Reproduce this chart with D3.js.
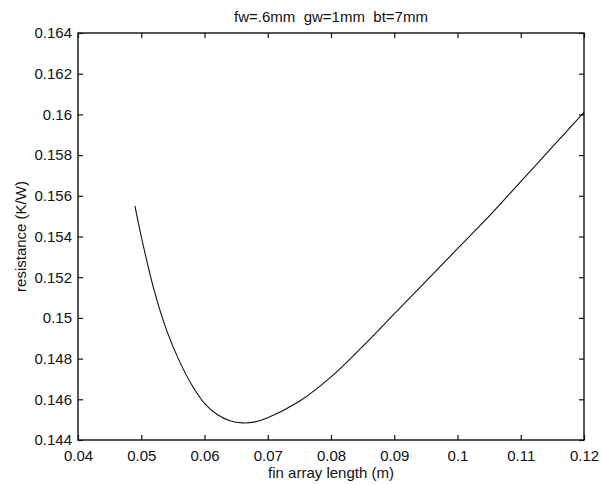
<!DOCTYPE html>
<html>
<head>
<meta charset="utf-8">
<script src="https://cdn.jsdelivr.net/npm/d3@7"></script>
<style>
body { margin: 0; background: #fff; }
text { font-family: "Liberation Sans", Arial, Helvetica, sans-serif; fill: #111; }
</style>
</head>
<body>
<svg id="chart" width="602" height="485"></svg>
<script>
const titleText = "fw=.6mm  gw=1mm  bt=7mm";
const xLabel = "fin array length (m)";
const yLabel = "resistance (K/W)";
const xTicks = [0.04, 0.05, 0.06, 0.07, 0.08, 0.09, 0.1, 0.11, 0.12];
const xTickLabels = ["0.04", "0.05", "0.06", "0.07", "0.08", "0.09", "0.1", "0.11", "0.12"];
const yTicks = [0.144, 0.146, 0.148, 0.15, 0.152, 0.154, 0.156, 0.158, 0.16, 0.162, 0.164];
const yTickLabels = ["0.144", "0.146", "0.148", "0.15", "0.152", "0.154", "0.156", "0.158", "0.16", "0.162", "0.164"];
const lengths = [0.049, 0.050, 0.052, 0.054, 0.056, 0.058, 0.060, 0.062, 0.064, 0.066, 0.068, 0.070, 0.075, 0.080, 0.085, 0.090, 0.095, 0.100, 0.105, 0.110, 0.115, 0.120];
const resistance = [0.1555, 0.1540, 0.1514, 0.1494, 0.1479, 0.1467, 0.1458, 0.14525, 0.14495, 0.14484, 0.14489, 0.14509, 0.1459, 0.1471, 0.1486, 0.1502, 0.1518, 0.1534, 0.1550, 0.1567, 0.1584, 0.1601];

const svg = d3.select("#chart");
const m = { left: 78, right: 584, top: 33, bottom: 440 };
const x = d3.scaleLinear().domain([0.04, 0.12]).range([m.left, m.right]);
const y = d3.scaleLinear().domain([0.144, 0.164]).range([m.bottom, m.top]);
const tl = 5;
const fs = 15;

svg.append("rect").attr("x", m.left).attr("y", m.top)
  .attr("width", m.right - m.left).attr("height", m.bottom - m.top)
  .attr("fill", "none").attr("stroke", "#111").attr("stroke-width", 1.4);

const bx = svg.append("g").attr("transform", `translate(0,${m.bottom})`)
  .call(d3.axisBottom(x).tickValues(xTicks).tickSizeInner(-tl).tickSizeOuter(0).tickPadding(10)
    .tickFormat((d, i) => xTickLabels[i]));
const tx = svg.append("g").attr("transform", `translate(0,${m.top})`)
  .call(d3.axisTop(x).tickValues(xTicks).tickSizeInner(-tl).tickSizeOuter(0).tickFormat(""));
const ly = svg.append("g").attr("transform", `translate(${m.left},0)`)
  .call(d3.axisLeft(y).tickValues(yTicks).tickSizeInner(-tl).tickSizeOuter(0).tickPadding(6)
    .tickFormat((d, i) => yTickLabels[i]));
const ry = svg.append("g").attr("transform", `translate(${m.right},0)`)
  .call(d3.axisRight(y).tickValues(yTicks).tickSizeInner(-tl).tickSizeOuter(0).tickFormat(""));

[bx, tx, ly, ry].forEach(g => {
  g.select(".domain").remove();
  g.selectAll(".tick line").attr("stroke", "#111").attr("stroke-width", 1.2);
  g.selectAll(".tick text").attr("font-size", fs).attr("fill", "#111")
    .attr("font-family", '"Liberation Sans", Arial, sans-serif');
});

const line = d3.line().x((d, i) => x(lengths[i])).y(d => y(d)).curve(d3.curveCatmullRom.alpha(0.5));
svg.append("path").datum(resistance).attr("d", line)
  .attr("fill", "none").attr("stroke", "#111").attr("stroke-width", 1.1);

svg.append("text").attr("x", (m.left + m.right) / 2).attr("y", 22)
  .attr("text-anchor", "middle").attr("font-size", fs)
  .style("white-space", "pre").attr("xml:space", "preserve").text(titleText);
svg.append("text").attr("x", (m.left + m.right) / 2).attr("y", 478)
  .attr("text-anchor", "middle").attr("font-size", fs).text(xLabel);
svg.append("text").attr("transform", `translate(26,${(m.top + m.bottom) / 2}) rotate(-90)`)
  .attr("text-anchor", "middle").attr("font-size", fs).text(yLabel);
</script>
</body>
</html>
